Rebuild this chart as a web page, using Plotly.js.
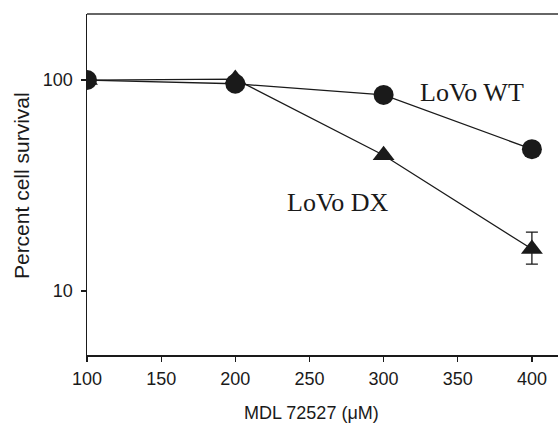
<!DOCTYPE html>
<html>
<head>
<meta charset="utf-8">
<script src="https://cdn.plot.ly/plotly-3.0.1.min.js"></script>
<style>html,body{margin:0;padding:0;background:#fff;}#chart{width:558px;height:424px;}</style>
</head>
<body>
<div id="chart"></div>
<script>
var doses = [100, 200, 300, 400];
var wtSurvival = [100, 96, 85, 47];
var dxSurvival = [100, 101, 44, 15.8];
var dxErrPlus = [0, 0, 0, 3.2];
var dxErrMinus = [0, 0, 0, 2.4];
var xTicks = [100, 150, 200, 250, 300, 350, 400];
var yTicks = [10, 100];
var wtLabel = 'LoVo WT';
var dxLabel = 'LoVo DX';
var xTitle = 'MDL 72527 (\u03bcM)';
var yTitle = 'Percent cell survival';

var ink = '#1a1a1a';

var traces = [
  {
    x: doses, y: dxSurvival, type: 'scatter', mode: 'lines+markers',
    line: {color: ink, width: 1.3},
    marker: {symbol: 'triangle-up', size: 19, color: ink},
    error_y: {type: 'data', symmetric: false, array: dxErrPlus, arrayminus: dxErrMinus,
              color: ink, thickness: 1.3, width: 6},
    showlegend: false, hoverinfo: 'none'
  },
  {
    x: doses, y: wtSurvival, type: 'scatter', mode: 'lines+markers',
    line: {color: ink, width: 1.3},
    marker: {symbol: 'circle', size: 20, color: ink},
    showlegend: false, hoverinfo: 'none'
  }
];

var serif = {family: 'Liberation Serif, Times New Roman, serif', size: 26, color: ink};
var sans = 'Liberation Sans, Arial, sans-serif';

var layout = {
  width: 558, height: 424,
  margin: {l: 87, r: 0, t: 14, b: 69, pad: 0},
  paper_bgcolor: '#fff', plot_bgcolor: '#fff',
  xaxis: {
    range: [100, 417.6], tickvals: xTicks, ticktext: xTicks.map(String),
    showgrid: false, zeroline: false, showline: true, linecolor: ink, linewidth: 1.5,
    ticks: 'outside', ticklen: 5, tickwidth: 1.2, tickcolor: ink,
    tickfont: {family: sans, size: 18, color: ink}, ticklabelstandoff: 2
  },
  yaxis: {
    type: 'log', range: [Math.log10(4.97), Math.log10(205.6)],
    tickvals: yTicks, ticktext: yTicks.map(String),
    showgrid: false, zeroline: false, showline: true, linecolor: ink, linewidth: 1.5,
    ticks: 'outside', ticklen: 5, tickwidth: 1.2, tickcolor: ink,
    tickfont: {family: sans, size: 18, color: ink}, ticklabelstandoff: 4
  },
  shapes: [
    {type: 'line', xref: 'paper', yref: 'paper', x0: 0, x1: 1, y0: 1, y1: 1,
     line: {color: '#333', width: 1.5}}
  ],
  annotations: [
    {text: wtLabel, xref: 'x', yref: 'y', x: 359.5, y: Math.log10(87), showarrow: false,
     font: serif, xanchor: 'center', yanchor: 'middle'},
    {text: dxLabel, xref: 'x', yref: 'y', x: 269, y: Math.log10(26.4), showarrow: false,
     font: serif, xanchor: 'center', yanchor: 'middle'},
    {text: xTitle, xref: 'paper', yref: 'paper', x: 0.4766, y: -0.170, showarrow: false,
     font: {family: sans, size: 18, color: ink}, xanchor: 'center', yanchor: 'middle'},
    {text: yTitle, xref: 'paper', yref: 'paper', x: -0.140, y: 0.4956, showarrow: false,
     textangle: -90, font: {family: sans, size: 21, color: ink}, xanchor: 'center', yanchor: 'middle'}
  ]
};

Plotly.newPlot('chart', traces, layout, {staticPlot: true, displayModeBar: false});
</script>
</body>
</html>
